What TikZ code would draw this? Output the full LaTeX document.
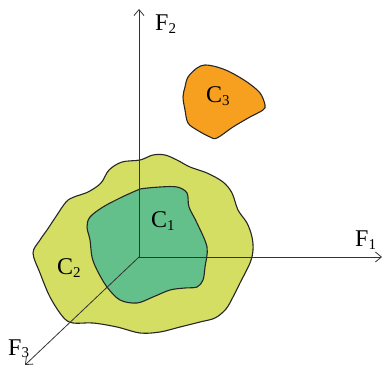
\documentclass[tikz,border=0pt]{standalone}
\usepackage{fontspec}
\setmainfont{Liberation Serif}
\usetikzlibrary{arrows.meta}
\definecolor{olive2}{RGB}{211,222,99}
\definecolor{green1}{RGB}{100,192,138}
\definecolor{orange3}{RGB}{247,160,32}
\newcommand{\lbl}[2]{#1\raisebox{-2.5pt}{\fontsize{15}{17}\selectfont #2}}

\begin{document}
\begin{tikzpicture}[x=1pt, y=-1pt, font=\fontsize{24}{28}\selectfont, blob/.style={draw=black!85, line width=1.1pt, smooth cycle, tension=0.55}, axis/.style={draw=black!80, line width=0.8pt, -{Straight Barb[length=6pt,width=10pt]}}, lab/.style={anchor=base west, inner sep=0pt}]
\useasboundingbox (0,0) rectangle (383,366);

% regions
\draw[blob, fill=olive2] plot coordinates {(140,160) (153,155) (165,155) (177,160) (190,167) (207,173) (223,182) (232,193) (238,210) (247,223) (252,237) (253,250) (250,263) (240,283) (233,297) (226,309) (215,318) (200,322) (180,327) (160,332) (140,333) (117,327) (93,323) (73,323) (63,317) (50,297) (40,273) (33,253) (40,240) (47,230) (55,218) (66,202) (74,197) (88,192) (101,183) (109,170) (122,162)};
\draw[blob, fill=green1] plot coordinates {(140,189) (160,187) (177,187) (187,193) (189,207) (197,223) (207,247) (205,267) (203,280) (197,287) (185,288) (170,290) (153,297) (137,303) (120,300) (107,287) (97,270) (92,257) (90,240) (87,227) (90,217) (103,207) (120,198) (133,192)};
\draw[blob, fill=orange3] plot coordinates {(185,87) (188,77) (197,68) (205,65) (217,67) (230,72) (247,82) (260,93) (265,105) (263,110) (250,117) (233,127) (217,138) (210,137) (197,130) (188,123) (185,110) (183,97)};

% axes
\coordinate (O) at (139,257);
\coordinate (f1) at (382,257);
\coordinate (f2) at (139,9);
\coordinate (f3) at (25,365);
\draw[axis] (O) -- (f1);
\draw[axis] (O) -- (f2);
\draw[axis] (O) -- (f3);

\node[lab] (F1) at (355,247) {\lbl{F}{1}};
\node[lab] (F2) at (155,31) {\lbl{F}{2}};
\node[lab] (F3) at (8,355) {\lbl{F}{3}};
\node[lab] (C1) at (151,228) {\lbl{C}{1}};
\node[lab] (C2) at (57,275) {\lbl{C}{2}};
\node[lab] (C3) at (206,103) {\lbl{C}{3}};

\end{tikzpicture}
\end{document}
